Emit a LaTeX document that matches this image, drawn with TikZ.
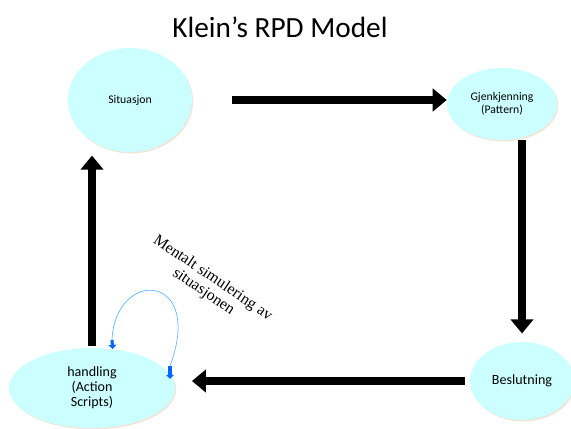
\documentclass[tikz,border=0pt]{standalone}
\usepackage{fontspec}
\setmainfont{Carlito}
\newfontfamily\serifface{Liberation Serif}
\usetikzlibrary{shapes.geometric,arrows.meta,shadows}
\definecolor{bubble area}{RGB}{204,255,255}
\colorlet{loop line}{blue!45!cyan!70}
\tikzset{
  bubble/.style={ellipse, fill=bubble area, draw=none, inner sep=0pt, align=center,
    drop shadow={shadow xshift=1pt, shadow yshift=-1.2pt, fill=brown!40, opacity=0.5}},
  bigarrow/.style={line width=7.5pt, -{Triangle[width=19pt,length=12pt]}},
  thinloop/.style={draw=loop line, line width=0.5pt},
  blockarrow/.style={draw=blue!60!cyan, line width=2.6pt, -{Triangle[width=6.5pt,length=3.5pt]}}
}

\begin{document}
\begin{tikzpicture}[x=0.03cm, y=-0.03cm]
  \useasboundingbox (0,0) rectangle (571,428);
  \fill[white] (0,0) rectangle (571,428);

  % title
  \node[font=\fontsize{25}{29}\selectfont] (title) at (280,27) {Klein’s RPD Model};

  % the four states
  \node[bubble, minimum width=3.72cm, minimum height=3.12cm,
    font=\fontsize{10}{12}\selectfont] (sit) at (130,100) {Situasjon};
  \node[bubble, minimum width=3.3cm, minimum height=2.16cm,
    font=\fontsize{10}{11}\selectfont] (gjen) at (502,104) {Gjenkjenning\\(Pattern)};
  \node[bubble, minimum width=3.12cm, minimum height=2.34cm,
    font=\fontsize{12}{14}\selectfont] (besl) at (522,381) {Beslutning};
  \node[bubble, minimum width=4.98cm, minimum height=2.4cm,
    font=\fontsize{12}{13}\selectfont] (hand) at (92,388) {handling\\(Action\\Scripts)};

  % main cycle
  \draw[bigarrow, shorten <=1.2cm] (sit.east) -- (sit.east -| gjen.west);
  \draw[bigarrow, shorten >=0.25cm] (besl.north |- gjen.south) -- (besl.north);
  \draw[bigarrow, shorten <=0.15cm, shorten >=0.5cm] (besl.west) -- (besl.west -| hand.east);
  \draw[bigarrow, shorten <=0.05cm, shorten >=0.1cm] (hand.north) -- (hand.north |- sit.south);

  % mental simulation loop
  \coordinate (loopa) at (112,340);
  \coordinate (loopb) at (170,366);
  \draw[thinloop] (loopa) .. controls (115,268) and (205,272) .. (loopb);
  \draw[blockarrow] (loopa) -- (hand.62);
  \draw[blockarrow] (loopb) -- (170,379);
  \node[rotate=-34, align=center, inner sep=0pt,
    font=\serifface\fontsize{13.5}{14}\selectfont] (simtext) at (208,285)
    {Mentalt simulering av\\situasjonen};
\end{tikzpicture}
\end{document}
